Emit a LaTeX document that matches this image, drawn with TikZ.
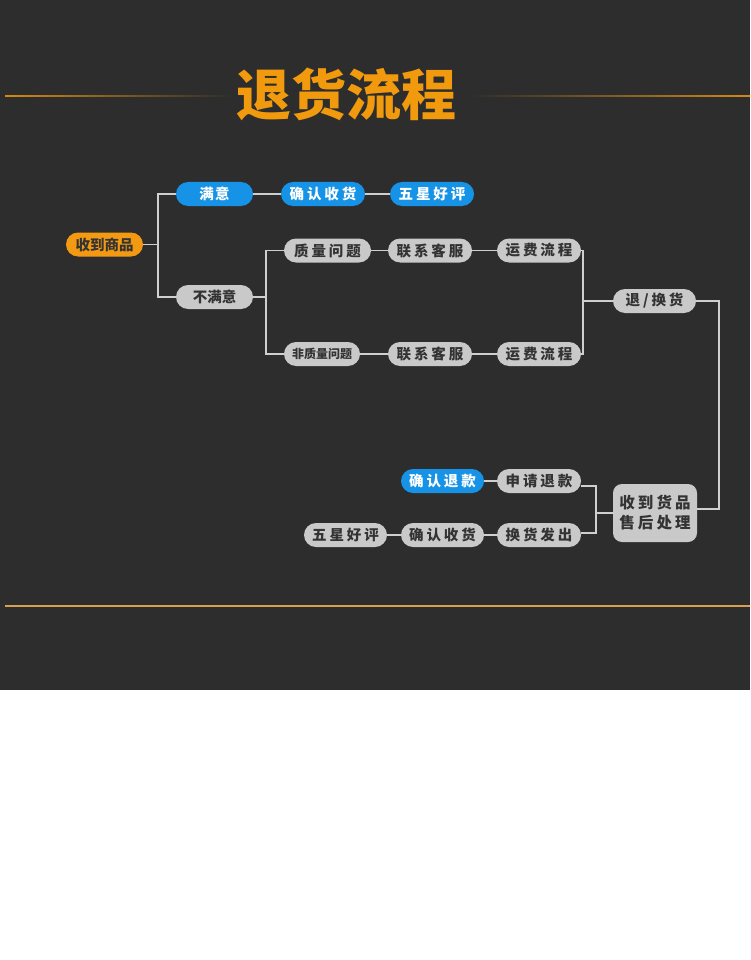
\documentclass[tikz,border=0pt]{standalone}
\usepackage{fontspec}
\setmainfont{Noto Sans CJK SC}[BoldFont={Noto Sans CJK SC Bold}]
\newfontfamily\titlefont{Noto Sans CJK SC Black}
\newfontfamily\pillfont{Noto Sans CJK SC Black}[LetterSpace=20]
\newfontfamily\pillmid{Noto Sans CJK SC Black}[LetterSpace=8]
\newfontfamily\pilltight{Noto Sans CJK SC Black}
\definecolor{bgc}{HTML}{2D2D2D}
\definecolor{pgray}{HTML}{C9C9C9}
\definecolor{ptext}{HTML}{333333}
\definecolor{pblue}{HTML}{1693E6}
\definecolor{porange}{HTML}{F39A12}
\definecolor{torange}{HTML}{F29A0D}
\definecolor{lgray}{HTML}{CFCFCF}
\definecolor{lorange}{HTML}{D9A050}
\tikzset{
  pill/.style={rectangle, rounded corners=12pt, minimum height=24pt, inner sep=0pt, font=\pillfont\fontsize{14.5}{16}\selectfont},
  gpill/.style={pill, fill=pgray, text=ptext},
  bpill/.style={pill, fill=pblue, text=white},
  opill/.style={pill, fill=porange, text=ptext},
  conn/.style={draw=lgray, line width=1.4pt},
}
\begin{document}
\begin{tikzpicture}[x=1pt,y=-1pt]
\useasboundingbox (0,0) rectangle (750,960);
\fill[white] (0,0) rectangle (750,960);
\fill[bgc] (0,0) rectangle (750,690);
% title lines
\shade[left color=torange!85!bgc, right color=bgc] (5,95.4) rectangle (232,96.6);
\shade[left color=bgc, right color=torange!85!bgc] (470,95.4) rectangle (750,96.6);
\fill[lorange] (5,605.2) rectangle (750,606.8);
\node[text=torange, font=\titlefont\fontsize{55}{60}\selectfont, inner sep=0pt] (title) at (346,94) {退货流程};
% nodes
\node[opill, minimum width=77pt, font=\pilltight\fontsize{14.5}{16}\selectfont] (start) at (104.5,244.5) {收到商品};
\node[bpill, minimum width=77pt, font=\pillmid\fontsize{14.5}{16}\selectfont] (sat) at (214.5,194) {满意};
\node[bpill, minimum width=84pt] (c1) at (323,194) {确认收货};
\node[bpill, minimum width=84pt] (s1) at (432,194) {五星好评};
\node[gpill, minimum width=77pt, font=\pilltight\fontsize{14.5}{16}\selectfont] (unsat) at (214.5,297) {不满意};
\node[gpill, minimum width=87pt] (q) at (327.5,250.5) {质量问题};
\node[gpill, minimum width=84pt] (k1) at (430,250.5) {联系客服};
\node[gpill, minimum width=84pt] (f1) at (539,250.5) {运费流程};
\node[gpill, minimum width=76pt, font=\pilltight\fontsize{12}{14}\selectfont] (nq) at (322,354) {非质量问题};
\node[gpill, minimum width=84pt] (k2) at (430,354) {联系客服};
\node[gpill, minimum width=84pt] (f2) at (539,354) {运费流程};
\node[gpill, minimum width=83pt] (ret) at (654.5,301) {退/换货};
\node[rectangle, rounded corners=9pt, fill=pgray, text=ptext, minimum width=84pt, minimum height=58pt, inner sep=0pt, align=center, font=\pillfont\fontsize{15.5}{20}\selectfont] (recv) at (655,513) {收到货品\\售后处理};
\node[gpill, minimum width=84pt] (apply) at (539,481) {申请退款};
\node[gpill, minimum width=84pt] (exch) at (539,535) {换货发出};
\node[bpill, minimum width=83pt] (cr) at (442.5,481) {确认退款};
\node[gpill, minimum width=83pt] (c2) at (442.5,535) {确认收货};
\node[gpill, minimum width=83pt] (s2) at (345.5,535) {五星好评};
% junctions
\coordinate (j1) at (158,244.5);
\coordinate (j2) at (266,297);
\coordinate (j3) at (583,301);
\coordinate (j5) at (719,301);
\coordinate (j4) at (596,513);
% connectors
\draw[conn] (start.east) -- (j1);
\draw[conn] (j1) |- (sat.west);
\draw[conn] (j1) |- (unsat.west);
\draw[conn] (sat) -- (c1);
\draw[conn] (c1) -- (s1);
\draw[conn] (unsat.east) -- (j2);
\draw[conn] (j2) |- (q.west);
\draw[conn] (j2) |- (nq.west);
\draw[conn] (q) -- (k1);
\draw[conn] (k1) -- (f1);
\draw[conn] (nq) -- (k2);
\draw[conn] (k2) -- (f2);
\draw[conn] (f1.east) -| (j3);
\draw[conn] (f2.east) -| (j3);
\draw[conn] (j3) -- (ret.west);
\draw[conn] (ret.east) -- (j5) |- ([yshift=4pt]recv.east);
\draw[conn] (recv.west) -- (j4);
\draw[conn] (j4) |- ([yshift=-5pt]apply.east);
\draw[conn] (j4) |- ([yshift=2pt]exch.east);
\draw[conn] (apply) -- (cr);
\draw[conn] (exch) -- (c2);
\draw[conn] (c2) -- (s2);
\end{tikzpicture}
\end{document}
